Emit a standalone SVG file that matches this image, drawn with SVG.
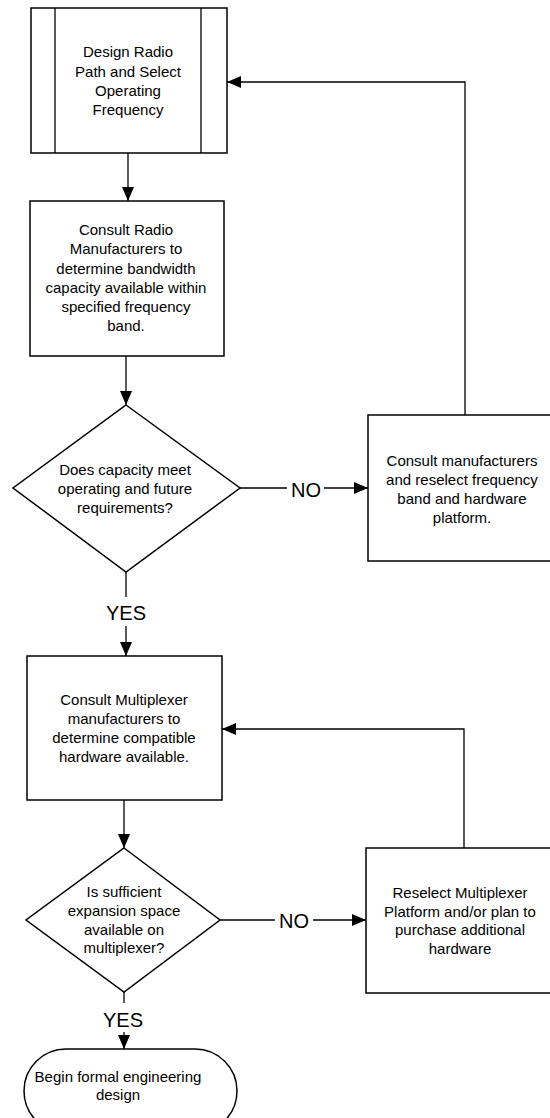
<svg xmlns="http://www.w3.org/2000/svg" width="550" height="1118" viewBox="0 0 550 1118">
<style>
.box{fill:#fff;stroke:#000;stroke-width:1.5}
.ln{fill:none;stroke:#000;stroke-width:1.3}
.t{font-family:"Liberation Sans",Arial,sans-serif;font-size:15px;fill:#000;text-anchor:middle}
.lbl{font-family:"Liberation Sans",Arial,sans-serif;font-size:20px;fill:#000;text-anchor:middle}
</style>
<defs>
<marker id="ah" markerWidth="14" markerHeight="12" refX="14" refY="6" orient="auto" markerUnits="userSpaceOnUse">
<path d="M0,0 L14,6 L0,12 Z" fill="#000"/>
</marker>
</defs>
<rect width="550" height="1118" fill="#fff"/>
<g id="connectors">
<path class="ln" d="M128,153 V201" marker-end="url(#ah)"/>
<path class="ln" d="M126,356 V405" marker-end="url(#ah)"/>
<path class="ln" d="M126,572 V597"/>
<path class="ln" d="M126,626 V656" marker-end="url(#ah)"/>
<path class="ln" d="M240,488 H287"/>
<path class="ln" d="M324,488 H368" marker-end="url(#ah)"/>
<path class="ln" d="M465,415 V82 H227" marker-end="url(#ah)"/>
<path class="ln" d="M124,800 V848" marker-end="url(#ah)"/>
<path class="ln" d="M464,848 V729 H222" marker-end="url(#ah)"/>
<path class="ln" d="M220,920 H275"/>
<path class="ln" d="M313,920 H366" marker-end="url(#ah)"/>
<path class="ln" d="M124,992 V1003"/>
<path class="ln" d="M124,1032 V1049" marker-end="url(#ah)"/>
<text class="lbl" x="126" y="620">YES</text>
<text class="lbl" x="306" y="497">NO</text>
<text class="lbl" x="294" y="928">NO</text>
<text class="lbl" x="123" y="1027">YES</text>
</g>
<g id="n1">
<rect class="box" x="31" y="8" width="196" height="145"/>
<line class="ln" x1="55" y1="8" x2="55" y2="153"/>
<line class="ln" x1="201" y1="8" x2="201" y2="153"/>
<text class="t" x="128"><tspan x="128" y="57">Design Radio</tspan><tspan x="128" y="77">Path and Select</tspan><tspan x="128" y="96">Operating</tspan><tspan x="128" y="115">Frequency</tspan></text>
</g>
<g id="n2">
<rect class="box" x="30" y="201" width="194" height="155"/>
<text class="t"><tspan x="126" y="235">Consult Radio</tspan><tspan x="126" y="254">Manufacturers to</tspan><tspan x="126" y="274">determine bandwidth</tspan><tspan x="126" y="293">capacity available within</tspan><tspan x="126" y="312">specified frequency</tspan><tspan x="126" y="331">band.</tspan></text>
</g>
<g id="d1">
<polygon class="box" points="126,405 240,488 126,572 13,488"/>
<text class="t"><tspan x="125" y="475">Does capacity meet</tspan><tspan x="125" y="494">operating and future</tspan><tspan x="125" y="513">requirements?</tspan></text>
</g>
<g id="n4">
<rect class="box" x="368" y="415" width="188" height="146"/>
<text class="t"><tspan x="462" y="466">Consult manufacturers</tspan><tspan x="462" y="485">and reselect frequency</tspan><tspan x="462" y="504">band and hardware</tspan><tspan x="462" y="523">platform.</tspan></text>
</g>
<g id="n3">
<rect class="box" x="27" y="656" width="195" height="144"/>
<text class="t"><tspan x="124" y="705">Consult Multiplexer</tspan><tspan x="124" y="724">manufacturers to</tspan><tspan x="124" y="743">determine compatible</tspan><tspan x="124" y="762">hardware available.</tspan></text>
</g>
<g id="n5">
<rect class="box" x="366" y="848" width="188" height="145"/>
<text class="t"><tspan x="460" y="898">Reselect Multiplexer</tspan><tspan x="460" y="917">Platform and/or plan to</tspan><tspan x="460" y="935">purchase additional</tspan><tspan x="460" y="954">hardware</tspan></text>
</g>
<g id="d2">
<polygon class="box" points="124,848 220,920 124,992 26,920"/>
<text class="t"><tspan x="124" y="897">Is sufficient</tspan><tspan x="124" y="916">expansion space</tspan><tspan x="124" y="935">available on</tspan><tspan x="124" y="953">multiplexer?</tspan></text>
</g>
<g id="n6">
<rect class="box" x="24" y="1049" width="213" height="84" rx="42" ry="42"/>
<text class="t"><tspan x="118" y="1082">Begin formal engineering</tspan><tspan x="118" y="1100">design</tspan></text>
</g>
</svg>
